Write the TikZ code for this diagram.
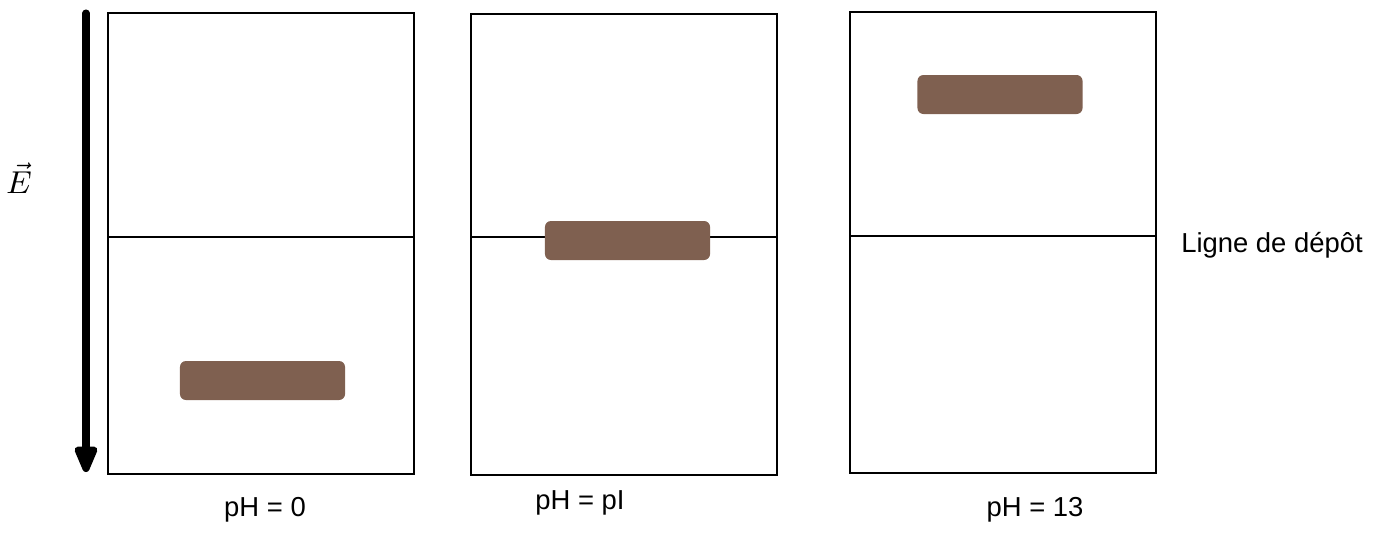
\documentclass[tikz,border=0pt]{standalone}
\usepackage{fontspec}
\setmainfont{Liberation Sans}
\usepackage{tikz}
\usetikzlibrary{arrows.meta}
\definecolor{gelbrown}{RGB}{127,96,80}

\begin{document}
\begin{tikzpicture}[x=0.01cm, y=-0.01cm, font=\fontsize{7.8}{9}\selectfont,
		lane/.style = {draw, line width=0.4pt, minimum width=3.06cm, minimum height=4.61cm, inner sep=0},
		band/.style = {fill=gelbrown, rounded corners=0.06cm, minimum width=1.65cm, minimum height=0.39cm, inner sep=0},
		field/.style = {line width=2pt, line cap=round, -{Triangle[width=0.24cm, length=0.32cm, round]}}]
		\useasboundingbox (0,0) rectangle (1382,532);
		\node[lane] (L1) at (261,243.5) {};
		\node[lane] (L2) at (624,244.5) {};
		\node[lane] (L3) at (1003,242.5) {};
		\coordinate (d1) at (0,237);
		\coordinate (d3) at (0,236);
		\draw[line width=0.4pt] (L1.west |- d1) -- (L1.east |- d1);
		\draw[line width=0.4pt] (L2.west |- d1) -- (L2.east |- d1);
		\draw[line width=0.4pt] (L3.west |- d3) -- (L3.east |- d3);
		\node[band] (B1) at (262.5,380.5) {};
		\node[band] (B2) at (627.5,240.5) {};
		\node[band] (B3) at (1000,94.5) {};
		\coordinate (top) at (86,13);
		\coordinate (bottom) at (86,472);
		\draw[field] (top) -- (bottom);
		\node[inner sep=0] (E) at (19,178) {\fontsize{8.6}{10}\selectfont$\vec{E}$};
		\node (pH1) at (265,510) {pH = 0};
		\node (pH2) at (580,503) {pH = pI};
		\node (pH3) at (1035,510) {pH = 13};
		\node (dep) at (1272,245) {Ligne de dépôt};
	\end{tikzpicture}
\end{document}
